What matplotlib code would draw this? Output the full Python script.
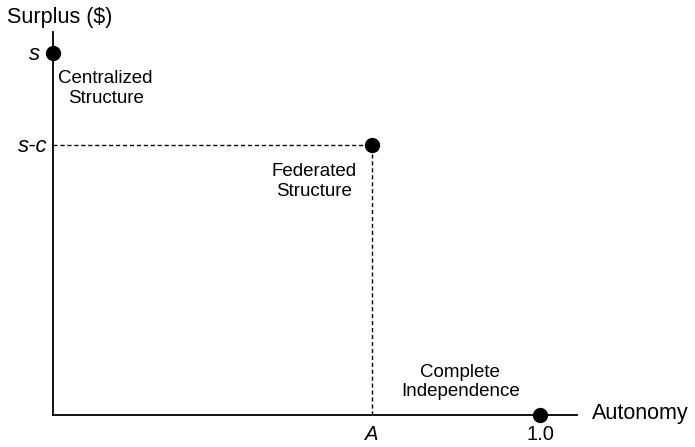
import matplotlib.pyplot as plt

plt.rcParams['font.family'] = ['Liberation Sans', 'DejaVu Sans']

# values (surplus scaled so s = 1)
structures = ['Centralized\nStructure', 'Federated\nStructure', 'Complete\nIndependence']
autonomy = [0.0, 0.655, 1.0]
surplus = [1.0, 0.746, 0.0]
y_ticks = [1.0, 0.746]
y_tick_labels = ['s', 's-c']
x_ticks = [0.655, 1.0]
x_tick_labels = ['A', '1.0']

fig = plt.figure(figsize=(6.95, 4.47), dpi=100)
ax = fig.add_axes([0.0763, 0.0716, 0.754, 0.857])
ax.set_xlim(0, 1.076)
ax.set_ylim(0, 1.058)

for side in ['top', 'right']:
    ax.spines[side].set_visible(False)
for side in ['left', 'bottom']:
    ax.spines[side].set_linewidth(1.3)

# dashed guides to the federated point
ax.plot([0, autonomy[1]], [surplus[1], surplus[1]], color='black', lw=1, dashes=(3, 2))
ax.plot([autonomy[1], autonomy[1]], [0, surplus[1]], color='black', lw=1, dashes=(3, 2))

ax.plot(autonomy, surplus, 'o', color='black', markersize=10, ls='none', clip_on=False, zorder=5)

# point labels
offsets = [(0.108, -0.098), (-0.119, -0.101), (-0.164, 0.091)]
for name, x, y, (dx, dy) in zip(structures, autonomy, surplus, offsets):
    ax.text(x + dx, y + dy, name, ha='center', va='center', fontsize=13.5, linespacing=1.2)

# y labels drawn by hand: they do not share a right edge
ax.set_yticks([])
for lab, y, off in zip(y_tick_labels, y_ticks, [9, 3.6]):
    ax.annotate(lab, xy=(0, y), xytext=(-off, -1), textcoords='offset points',
                ha='right', va='center', fontsize=16, style='italic', annotation_clip=False)

ax.set_xticks(x_ticks)
ax.set_xticklabels(x_tick_labels, fontsize=14.5)
ax.get_xticklabels()[0].set_style('italic')
ax.tick_params(length=0, pad=7)

fig.text(0.01, 0.9485, 'Surplus ($)', fontsize=15.5, ha='left', va='baseline')
fig.text(0.852, 0.0626, 'Autonomy', fontsize=15.5, ha='left', va='baseline')

fig.savefig('out.png', dpi=100)
